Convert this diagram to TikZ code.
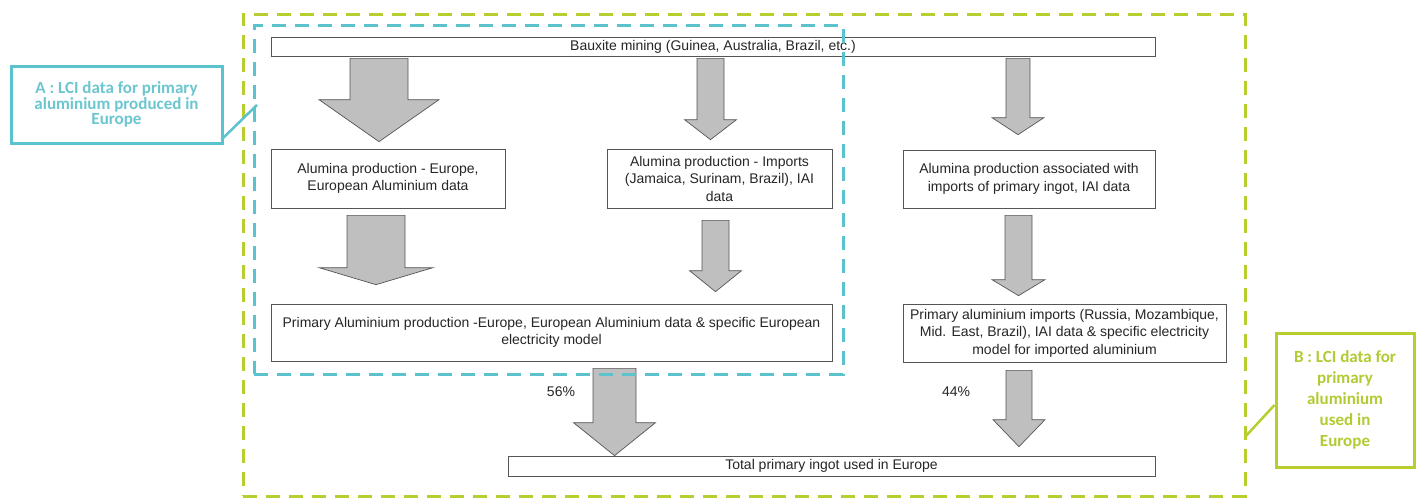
\documentclass[tikz,border=0pt]{standalone}
\usepackage{fontspec}
\setmainfont{Liberation Sans}
\newfontfamily\calloutfont{Carlito}
\usetikzlibrary{calc}
\definecolor{tealline}{HTML}{5BC3CD}
\definecolor{tealtext}{HTML}{6CC6CF}
\definecolor{limeline}{HTML}{B7CE2E}
\definecolor{limetext}{HTML}{B3CB33}
\definecolor{arrowgrey}{HTML}{BFBFBF}
\definecolor{edgegrey}{HTML}{555555}

% block arrow from the bottom of #1 to the top of #2 at x = #3
% #4 shaft half-width, #5 head half-width, #6 gap at top, #7 head length, #8 gap at tip
\newcommand\blockarrow[8]{%
  \filldraw[blockarr] let \p1=(#1.south), \p2=(#2.north) in
    ({(#3-#4)*1pt},{\y1-#6pt}) -- ({(#3-#4)*1pt},{\y2+#8pt+#7pt})
    -- ({(#3-#5)*1pt},{\y2+#8pt+#7pt}) -- ({#3pt},{\y2+#8pt})
    -- ({(#3+#5)*1pt},{\y2+#8pt+#7pt}) -- ({(#3+#4)*1pt},{\y2+#8pt+#7pt})
    -- ({(#3+#4)*1pt},{\y1-#6pt}) -- cycle;}

\begin{document}
\begin{tikzpicture}[x=1pt,y=-1pt,
  box/.style={draw=edgegrey, line width=0.7pt, fill=white, inner sep=0pt,
    align=center, text=black!85, font=\fontsize{14}{17.5}\selectfont},
  blockarr/.style={draw=edgegrey, line width=0.7pt, fill=arrowgrey},
  pct/.style={text=black!85, font=\fontsize{14}{16}\selectfont},
  regionA/.style={draw=tealline, line width=3pt, dash pattern=on 14pt off 9pt, inner sep=0pt},
  regionB/.style={draw=limeline, line width=3pt, dash pattern=on 14pt off 9pt, inner sep=0pt},
  calloutA/.style={draw=tealline, line width=3pt, fill=white, inner sep=0pt, align=center,
    text=tealtext, font=\calloutfont\bfseries\fontsize{17}{13.3}\selectfont},
  calloutB/.style={draw=limeline, line width=3pt, fill=white, inner sep=0pt, align=center,
    text=limetext, font=\calloutfont\bfseries\fontsize{17}{21}\selectfont},
]
\useasboundingbox (0,0) rectangle (1422,498);

% process boxes
\node[box, minimum width=884pt, minimum height=19pt] (baux) at (713,46.5)
  {Bauxite mining (Guinea, Australia, Brazil, etc.)};
\node[box, minimum width=234pt, minimum height=59pt] (aleu) at (388,178.5)
  {Alumina production - Europe,\\European Aluminium data};
\node[box, minimum width=225pt, minimum height=59pt] (alimp) at (719.5,178.5)
  {Alumina production - Imports\\(Jamaica, Surinam, Brazil), IAI\\data};
\node[box, minimum width=252pt, minimum height=58pt] (aling) at (1029,179)
  {Alumina production associated with\\imports of primary ingot, IAI data};
\node[box, minimum width=561pt, minimum height=57pt] (preu) at (551.5,332.5)
  {Primary Aluminium production -Europe, European Aluminium data \& specific European\\electricity model};
\node[box, minimum width=323pt, minimum height=58pt] (primp) at (1064.5,333)
  {Primary aluminium imports (Russia, Mozambique,\\Mid. East, Brazil), IAI data \& specific electricity\\model for imported aluminium};
\node[box, minimum width=647pt, minimum height=20pt] (total) at (831.5,466)
  {Total primary ingot used in Europe};

% block arrows
\blockarrow{baux}{aleu}{379}{29}{60}{2}{42}{7}
\blockarrow{baux}{alimp}{710.5}{13.5}{26}{2}{20}{9}
\blockarrow{baux}{aling}{1018}{12}{26}{2}{17}{15}
\blockarrow{aleu}{preu}{376}{29}{57}{7}{17}{19}
\blockarrow{alimp}{preu}{715.5}{13.5}{26}{12}{21}{12}
\blockarrow{aling}{primp}{1018.5}{13.5}{26.5}{7}{16}{8}
\blockarrow{preu}{total}{614.5}{21.5}{41}{7}{33}{0}
\blockarrow{primp}{total}{1019}{13}{26}{8}{27}{9}

% shares
\node[pct] (p56) at (561,392) {56\%};
\node[pct] (p44) at (956,392) {44\%};

% dashed system boundaries
\node[regionB, minimum width=1002pt, minimum height=482pt] (regB) at (744,255) {};
\node[regionA, minimum width=589pt, minimum height=349pt] (regA) at (548.5,199.5) {};

% callouts
\node[calloutA, minimum width=211pt, minimum height=77pt] (ca) at (116.5,104.5)
  {A : LCI data for primary\\aluminium produced in\\Europe};
\node[calloutB, minimum width=138pt, minimum height=134pt] (cb) at (1345,400)
  {B : LCI data for\\primary\\aluminium\\used in\\Europe};
\coordinate (aend) at (257,105);
\coordinate (bend) at (1245,437);
\draw[tealline, line width=2.5pt] ([xshift=-2pt,yshift=5pt]ca.south east) -- (aend);
\draw[limeline, line width=2.5pt] (bend) -- ([yshift=-5pt]cb.west);
\end{tikzpicture}
\end{document}
